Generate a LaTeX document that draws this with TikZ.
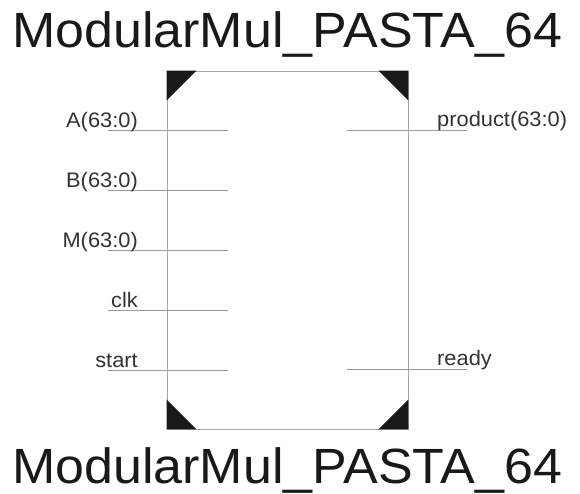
\documentclass[tikz,border=0pt]{standalone}
\usepackage{fontspec}
\usepackage{graphicx}
\setmainfont{Liberation Sans}
\newcommand{\widetext}[2]{\scalebox{#1}[1]{#2}}
\begin{document}
\begin{tikzpicture}[x=1pt,y=-1pt,
  wire/.style={draw=black!40, line width=0.9pt},
  frame/.style={draw=black!35, line width=0.9pt},
  corner/.style={fill=black!90, draw=none},
  title/.style={anchor=base west, inner sep=0pt, text=black!90,
    font=\fontsize{49.5}{52}\selectfont},
  pinl/.style={anchor=base east, inner sep=0pt, text=black!80,
    font=\fontsize{21}{22}\selectfont},
  pinr/.style={anchor=base west, inner sep=0pt, text=black!80,
    font=\fontsize{21}{22}\selectfont}]
\useasboundingbox (0,0) rectangle (580,493);
\fill[white] (0,0) rectangle (580,493);

% block outline and its corner markers
\node[frame, minimum width=241pt, minimum height=358pt, inner sep=0pt] (blk) at (287.5,250) {};
\fill[corner] (blk.north west) -- ++(30,0) -- ++(-30,30) -- cycle;
\fill[corner] (blk.north east) -- ++(-30,0) -- ++(30,30) -- cycle;
\fill[corner] (blk.south west) -- ++(30,0) -- ++(-30,-30) -- cycle;
\fill[corner] (blk.south east) -- ++(-30,0) -- ++(30,-30) -- cycle;

% titles
\node[title] (ttop) at (12,47) {\widetext{1.05}{ModularMul\_PASTA\_64}};
\node[title] (tbot) at (12,483) {\widetext{1.05}{ModularMul\_PASTA\_64}};

% input pins
\foreach \nm/\lbl/\y in {a/A(63:0)/130, b/B(63:0)/190, m/M(63:0)/250, clk/clk/310, st/start/370}{
  \coordinate (\nm o) at (108,\y);
  \coordinate (\nm i) at (228,\y);
  \draw[wire] (\nm o) -- (\nm i);
  \node[pinl] (\nm l) at (138,\y-3) {\widetext{1.04}{\lbl}};
}

% output pins
\foreach \nm/\lbl/\y in {p/product(63:0)/130, r/ready/369}{
  \coordinate (\nm i) at (347,\y);
  \coordinate (\nm o) at (467,\y);
  \draw[wire] (\nm i) -- (\nm o);
  \node[pinr] (\nm l) at (437,\y-4) {\widetext{1.04}{\lbl}};
}
\end{tikzpicture}
\end{document}
